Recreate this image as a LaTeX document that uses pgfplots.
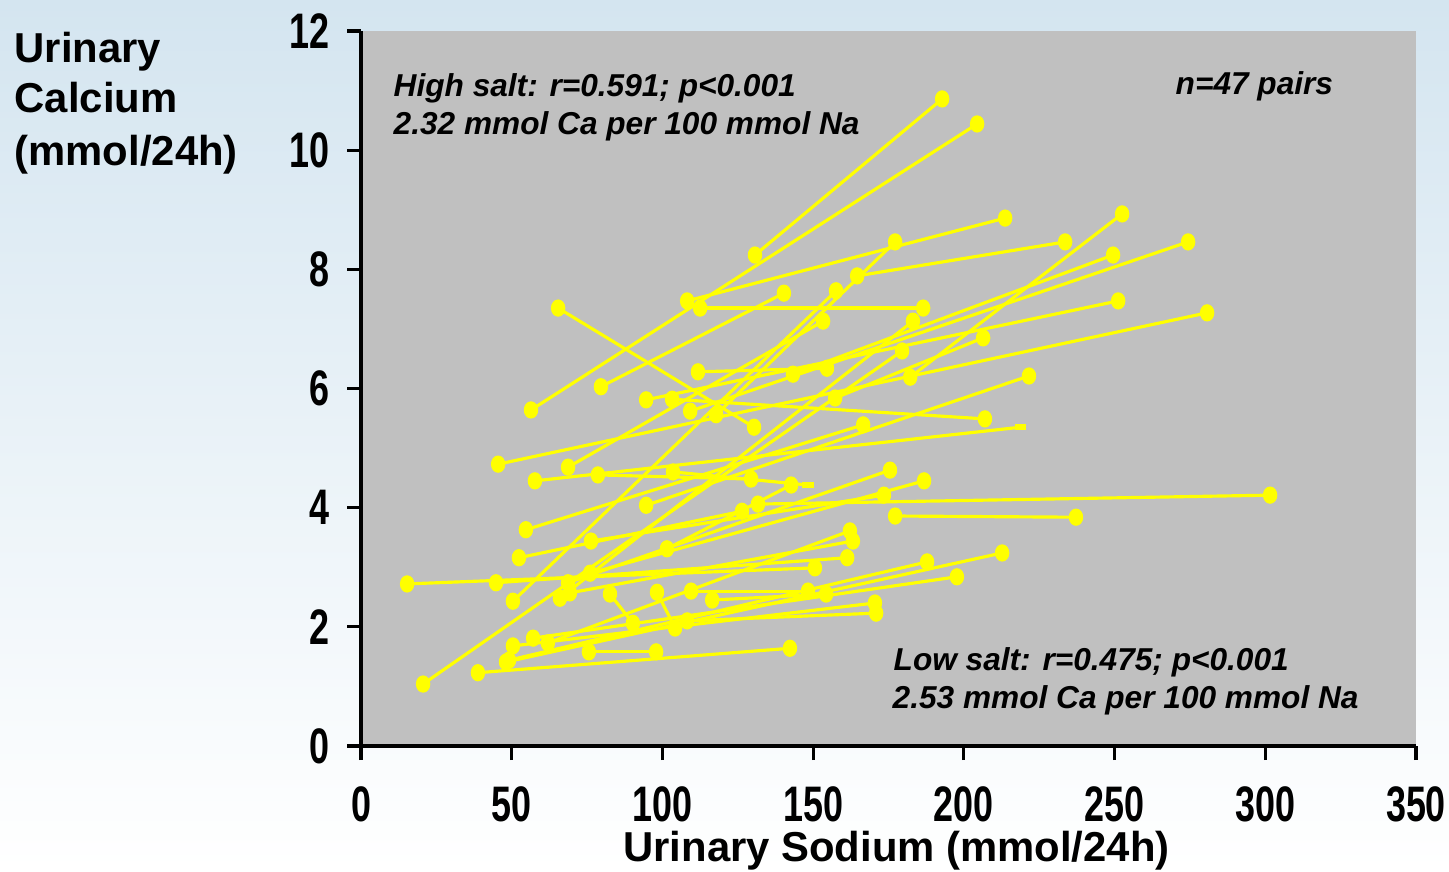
\documentclass[border=0pt]{standalone}
\usepackage{pgfplots}
\pgfplotsset{compat=1.18}
\usepackage{fontspec}
\setmainfont{Liberation Sans}
\newfontfamily\narrowsans[FakeStretch=0.72]{Liberation Sans}
\definecolor{ylw}{RGB}{255,255,0}
\definecolor{plotgray}{RGB}{192,192,192}
\definecolor{bgtop}{RGB}{212,229,240}
\definecolor{bgmid}{RGB}{233,241,247}
\newcommand{\tickfont}{\narrowsans\bfseries\fontsize{14.2}{16}\selectfont}
\newcommand{\labfont}{\bfseries\fontsize{11.9}{14}\selectfont}
\newcommand{\notefont}{\bfseries\itshape\fontsize{9}{10}\selectfont}
\begin{document}
\begin{tikzpicture}
\useasboundingbox (0,0) rectangle (14.49,8.71);
\shade[top color=bgtop, middle color=bgmid, bottom color=white] (0,0) rectangle (14.49,8.71);
\begin{axis}[
  at={(3.61cm,1.25cm)}, anchor=south west,
  scale only axis, width=10.55cm, height=7.15cm,
  xmin=0, xmax=350, ymin=0, ymax=12,
  axis lines=left, axis line style={-, line width=0.9pt, black},
  axis background/.style={fill=plotgray},
  xtick={0,50,...,350}, ytick={0,2,...,12},
  tick align=outside, major tick length=0.14cm,
  tick style={black, line width=0.9pt},
  /pgf/number format/assume math mode=true,
  ticklabel style={font=\tickfont},
  xticklabel style={yshift=-0.14cm},
  yticklabel style={xshift=-0.05cm},
  pr/.style={ylw, solid, line width=0.9pt, mark=*,
    mark size=2.0pt, mark options={xscale=0.8, fill=ylw, draw=ylw, solid}},
]
% paired 24-h collections: (low salt Na, Ca) -- (high salt Na, Ca)
\addplot[pr] coordinates {(130.7,8.24) (192.8,10.86)};
\addplot[pr] coordinates {(56.4,5.64) (204.4,10.44)};
\addplot[pr] coordinates {(108.2,7.47) (213.7,8.86)};
\addplot[pr] coordinates {(164.6,7.89) (233.6,8.46)};
\addplot[pr] coordinates {(182.2,6.19) (252.5,8.93)};
\addplot[pr] coordinates {(143.3,6.24) (249.5,8.24)};
\addplot[pr] coordinates {(109.2,5.62) (274.4,8.46)};
\addplot[pr] coordinates {(65.4,7.35) (130.4,5.35)};
\addplot[pr] coordinates {(112.5,7.35) (186.5,7.35)};
\addplot[pr] coordinates {(103.2,5.82) (207.0,5.49)};
\addplot[pr] coordinates {(94.6,5.81) (251.2,7.47)};
\addplot[pr] coordinates {(131.7,4.06) (301.6,4.21)};
\addplot[pr] coordinates {(177.2,3.86) (237.2,3.84)};
\addplot[pr] coordinates {(54.7,3.63) (166.6,5.39)};
\addplot[pr] coordinates {(45.5,4.73) (280.7,7.27)};
\addplot[pr] coordinates {(79.6,6.03) (140.3,7.60)};
\addplot[pr] coordinates {(117.8,5.56) (177.2,8.46)};
\addplot[pr] coordinates {(20.6,1.04) (179.5,6.63)};
\addplot[pr] coordinates {(111.8,6.28) (154.6,6.34)};
\addplot[pr] coordinates {(94.6,4.04) (221.6,6.21)};
\addplot[pr, mark indices={1}] coordinates {(57.7,4.45) (218.7,5.35)};
\addplot[pr] coordinates {(48.1,1.41) (212.7,3.24)};
\addplot[pr] coordinates {(57.1,1.81) (197.7,2.84)};
\addplot[pr] coordinates {(49.1,1.44) (187.8,3.09)};
\addplot[pr] coordinates {(66.0,2.48) (183.1,7.13)};
\addplot[pr] coordinates {(68.7,4.68) (153.3,7.13)};
\addplot[pr] coordinates {(78.6,4.55) (129.4,4.48)};
\addplot[pr] coordinates {(50.4,2.43) (157.6,7.64)};
\addplot[pr] coordinates {(75.6,1.58) (97.9,1.58)};
\addplot[pr] coordinates {(38.8,1.23) (142.3,1.64)};
\addplot[pr] coordinates {(15.3,2.72) (150.6,2.99)};
\addplot[pr] coordinates {(44.8,2.74) (161.3,3.16)};
\addplot[pr] coordinates {(62.0,1.73) (162.2,3.61)};
\addplot[pr] coordinates {(69.3,2.57) (163.2,3.44)};
\addplot[pr] coordinates {(68.7,2.74) (175.5,4.63)};
\addplot[pr] coordinates {(76.0,2.90) (186.8,4.45)};
\addplot[pr] coordinates {(76.3,3.44) (173.5,4.21)};
\addplot[pr] coordinates {(52.4,3.16) (126.4,3.94)};
\addplot[pr] coordinates {(157.3,5.84) (206.4,6.85)};
\addplot[pr, mark indices={1}] coordinates {(103.5,4.60) (148.3,4.38)};
\addplot[pr] coordinates {(101.5,3.31) (142.7,4.38)};
\addplot[pr] coordinates {(50.4,1.68) (170.5,2.40)};
\addplot[pr] coordinates {(98.2,2.58) (104.2,1.98)};
\addplot[pr] coordinates {(108.2,2.10) (170.9,2.23)};
\addplot[pr] coordinates {(109.5,2.60) (148.3,2.60)};
\addplot[pr] coordinates {(116.5,2.45) (154.3,2.55)};
\addplot[pr] coordinates {(82.6,2.55) (90.2,2.06)};
% flattened end markers
\addplot[only marks, ylw, mark=-, mark size=1.6pt,
  mark options={line width=1.8pt, draw=ylw}]
  coordinates {(218.7,5.35) (148.3,4.38)};
\end{axis}
% axis titles
\node[anchor=base west, inner sep=0pt, font=\labfont] at (0.14,8.08) {Urinary};
\node[anchor=base west, inner sep=0pt, font=\labfont] at (0.14,7.58) {Calcium};
\node[anchor=base west, inner sep=0pt, font=\labfont] at (0.14,7.06) {(mmol/24h)};
\node[anchor=base, inner sep=0pt, font=\labfont] at (8.965,0.10) {Urinary Sodium (mmol/24h)};
% statistics
\node[anchor=base west, inner sep=0pt, font=\notefont] at (3.93,7.74) {High salt: r=0.591; p<0.001};
\node[anchor=base west, inner sep=0pt, font=\notefont] at (3.93,7.36) {2.32 mmol Ca per 100 mmol Na};
\node[anchor=base west, inner sep=0pt, font=\notefont] at (11.75,7.76) {n=47 pairs};
\node[anchor=base west, inner sep=0pt, font=\notefont] at (8.93,2.01) {Low salt: r=0.475; p<0.001};
\node[anchor=base west, inner sep=0pt, font=\notefont] at (8.92,1.63) {2.53 mmol Ca per 100 mmol Na};
\end{tikzpicture}
\end{document}
